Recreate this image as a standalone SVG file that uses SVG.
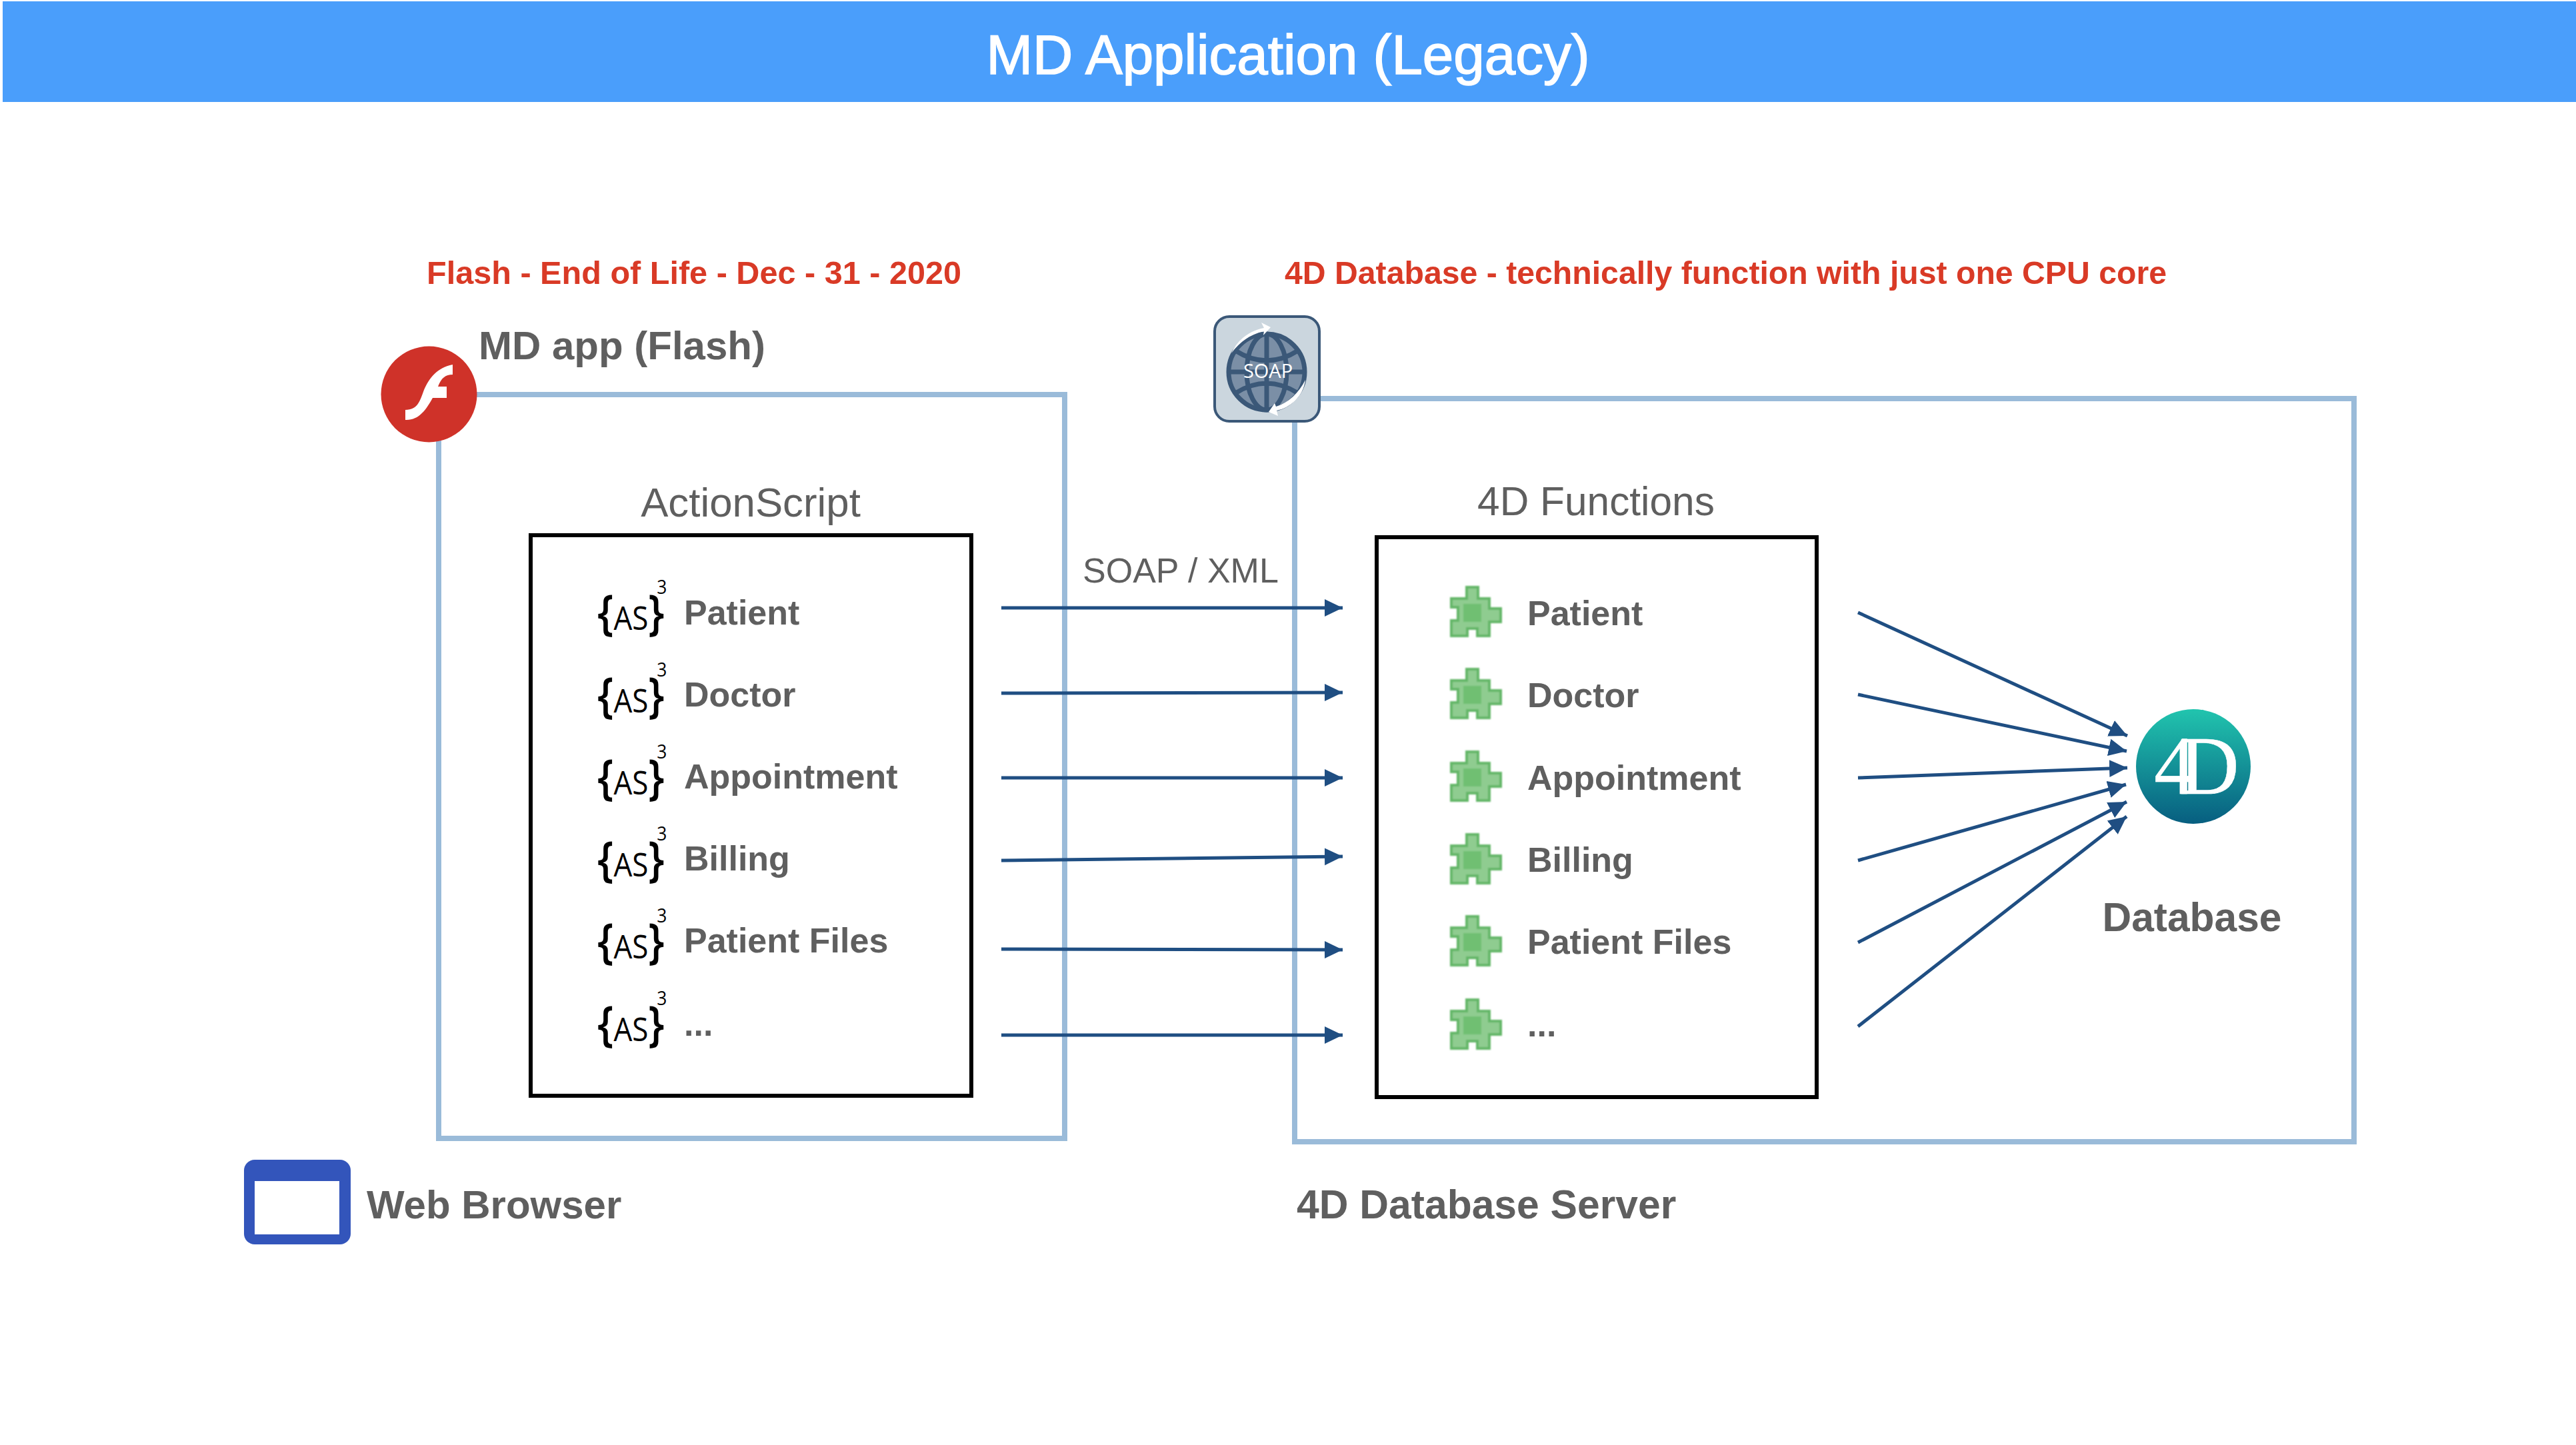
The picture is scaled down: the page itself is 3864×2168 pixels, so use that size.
<svg xmlns="http://www.w3.org/2000/svg" width="3864" height="2168" viewBox="0 0 3864 2168">
<style>
text{font-family:"Liberation Sans",Arial,sans-serif;fill:#5f5f5f}
.lb{font-size:60px;font-weight:bold}
.rl{font-size:52px;font-weight:bold}
.h{font-size:60px;text-anchor:middle}
.red{font-size:48.4px;font-weight:bold;fill:#d93a26}
.zone{fill:none;stroke:#9abbd9;stroke-width:8}
.core{fill:none;stroke:#000;stroke-width:6}
.as{font-family:"Open Sans","Noto Sans",sans-serif;fill:#000}
.asb{font-size:72px;font-weight:600}
.asl{font-size:50px;font-weight:400}
.as3{font-size:30px;font-weight:400}
.conn line{stroke:#1f4e82;stroke-width:5;marker-end:url(#ah)}
</style>
<defs>
<marker id="ah" markerUnits="userSpaceOnUse" markerWidth="30" markerHeight="28" refX="27" refY="13" orient="auto"><path d="M0,0L27,13L0,26Z" fill="#1f4e82"/></marker>
<linearGradient id="g4d" x1="0" y1="0" x2="0" y2="1"><stop offset="0" stop-color="#21c4ae"/><stop offset="1" stop-color="#075e80"/></linearGradient>
<filter id="soft" x="-10%" y="-10%" width="120%" height="120%"><feGaussianBlur stdDeviation="0.9"/></filter>
<g id="pz" filter="url(#soft)">
<path d="M23,0H44V17H61V32H78V56H61V77H39V66H28V77H0V50H10V34H0V17H23Z" fill="#63b668"/>
<path d="M27,4H40V21H57V36H74V52H57V73H43V62H24V73H4V54H14V30H4V21H27Z" fill="#8fcc90"/>
<rect x="20" y="27" width="27" height="27" fill="#70bf72"/>
</g>
</defs>
<rect width="3864" height="2168" fill="#fff"/>
<g id="header"><rect x="4" y="2" width="3860" height="151" fill="#4a9efb"/><text x="1932" y="111" font-size="83.5" text-anchor="middle" style="fill:#fff;stroke:#fff;stroke-width:1.6">MD Application (Legacy)</text></g>
<g id="notes"><text class="red" x="640" y="426" textLength="802" lengthAdjust="spacingAndGlyphs">Flash - End of Life - Dec - 31 - 2020</text><text class="red" x="1927" y="426" textLength="1323" lengthAdjust="spacingAndGlyphs">4D Database - technically function with just one CPU core</text></g>
<g id="md-app"><rect class="zone" x="658" y="592" width="939" height="1116"/><text class="lb" x="718" y="539">MD app (Flash)</text>
<g id="flash-icon"><circle cx="643.5" cy="591.5" r="72" fill="#cf3229"/><path d="M679,547C655,552 644,567 636,585C630,601 627,615 608,615V630C628,631 639,615 649,597H670V580H657C662,567 668,562 679,562Z" fill="#fff"/></g></g>
<g id="db-server"><rect class="zone" x="1942" y="598" width="1589" height="1115"/><text class="lb" x="1945" y="1828" style="font-size:60.6px">4D Database Server</text>
<g id="soap-icon"><rect x="1822" y="475" width="157" height="157" rx="22" fill="#cbd6de" stroke="#3b5878" stroke-width="4"/><circle cx="1900" cy="558" r="57" fill="#7b8fa6" stroke="#3b5878" stroke-width="7"/><g fill="none" stroke="#3b5878" stroke-width="7"><ellipse cx="1900" cy="558" rx="30" ry="57"/><path d="M1843,558H1957M1900,501V615M1853,526Q1900,556 1947,526M1853,590Q1900,560 1947,590"/></g>
<path d="M1847,530C1857,508 1876,496 1896,492L1892,484L1906,491L1895,503L1896,497C1877,501 1860,512 1847,530Z" fill="#fff"/><path d="M1958,570C1955,595 1935,612 1915,616L1917,624L1903,618L1912,605L1914,610C1933,604 1948,590 1958,570Z" fill="#fff"/>
<text x="1902" y="567" font-size="29" text-anchor="middle" style="font-family:'Open Sans',sans-serif;fill:#fff">SOAP</text></g></g>
<g id="actionscript"><rect class="core" x="796" y="803" width="661" height="841"/><text class="h" x="1126" y="775" style="font-size:61.8px">ActionScript</text></g>
<g id="functions"><rect class="core" x="2065" y="806" width="660" height="840"/><text class="h" x="2394" y="773" style="font-size:60.4px">4D Functions</text></g>
<g id="as-patient"><text class="as" transform="translate(896,945) scale(.88,1)"><tspan class="asb">{</tspan><tspan class="asl">AS</tspan><tspan class="asb">}</tspan><tspan class="as3" dx="-13" dy="-54">3</tspan></text><text class="rl" x="1026" y="937">Patient</text></g>
<g id="as-doctor"><text class="as" transform="translate(896,1069) scale(.88,1)"><tspan class="asb">{</tspan><tspan class="asl">AS</tspan><tspan class="asb">}</tspan><tspan class="as3" dx="-13" dy="-54">3</tspan></text><text class="rl" x="1026" y="1060">Doctor</text></g>
<g id="as-appointment"><text class="as" transform="translate(896,1192) scale(.88,1)"><tspan class="asb">{</tspan><tspan class="asl">AS</tspan><tspan class="asb">}</tspan><tspan class="as3" dx="-13" dy="-54">3</tspan></text><text class="rl" x="1026" y="1183">Appointment</text></g>
<g id="as-billing"><text class="as" transform="translate(896,1315) scale(.88,1)"><tspan class="asb">{</tspan><tspan class="asl">AS</tspan><tspan class="asb">}</tspan><tspan class="as3" dx="-13" dy="-54">3</tspan></text><text class="rl" x="1026" y="1306">Billing</text></g>
<g id="as-files"><text class="as" transform="translate(896,1438) scale(.88,1)"><tspan class="asb">{</tspan><tspan class="asl">AS</tspan><tspan class="asb">}</tspan><tspan class="as3" dx="-13" dy="-54">3</tspan></text><text class="rl" x="1026" y="1429">Patient Files</text></g>
<g id="as-more"><text class="as" transform="translate(896,1562) scale(.88,1)"><tspan class="asb">{</tspan><tspan class="asl">AS</tspan><tspan class="asb">}</tspan><tspan class="as3" dx="-13" dy="-54">3</tspan></text><text class="rl" x="1026" y="1554">...</text></g>
<g id="fn-patient"><use href="#pz" x="2175" y="879"/><text class="rl" x="2291" y="938">Patient</text></g>
<g id="fn-doctor"><use href="#pz" x="2175" y="1002"/><text class="rl" x="2291" y="1061">Doctor</text></g>
<g id="fn-appointment"><use href="#pz" x="2175" y="1126"/><text class="rl" x="2291" y="1185">Appointment</text></g>
<g id="fn-billing"><use href="#pz" x="2175" y="1250"/><text class="rl" x="2291" y="1308">Billing</text></g>
<g id="fn-files"><use href="#pz" x="2175" y="1373"/><text class="rl" x="2291" y="1431">Patient Files</text></g>
<g id="fn-more"><use href="#pz" x="2175" y="1498"/><text class="rl" x="2291" y="1555">...</text></g>
<g id="database"><circle cx="3290" cy="1150" r="86" fill="url(#g4d)"/><text x="3231" y="1191" font-size="125" letter-spacing="-25" style="font-family:'Liberation Serif',serif;fill:#fff;stroke:#fff;stroke-width:.5">4D</text><text class="lb" x="3288" y="1397" text-anchor="middle" style="font-size:60.5px">Database</text></g>
<g id="browser"><rect x="366" y="1740" width="160" height="127" rx="16" fill="#3355bb"/><rect x="382" y="1772" width="127" height="80" fill="#fff"/><text class="lb" x="550" y="1828">Web Browser</text></g>
<g id="connectors" class="conn">
<line x1="1502" y1="912" x2="2014" y2="912"/><line x1="1502" y1="1040" x2="2014" y2="1039"/><line x1="1502" y1="1167" x2="2014" y2="1167"/><line x1="1502" y1="1291" x2="2014" y2="1285"/><line x1="1502" y1="1424" x2="2014" y2="1425"/><line x1="1502" y1="1553" x2="2014" y2="1553"/>
<line x1="2787" y1="919" x2="3191" y2="1104"/><line x1="2787" y1="1042" x2="3190" y2="1127"/><line x1="2787" y1="1167" x2="3191" y2="1152"/><line x1="2787" y1="1291" x2="3189" y2="1177"/><line x1="2787" y1="1414" x2="3190" y2="1203"/><line x1="2787" y1="1540" x2="3190" y2="1225"/>
<text x="1624" y="874" font-size="52" style="stroke:none">SOAP / XML</text></g>
</svg>
